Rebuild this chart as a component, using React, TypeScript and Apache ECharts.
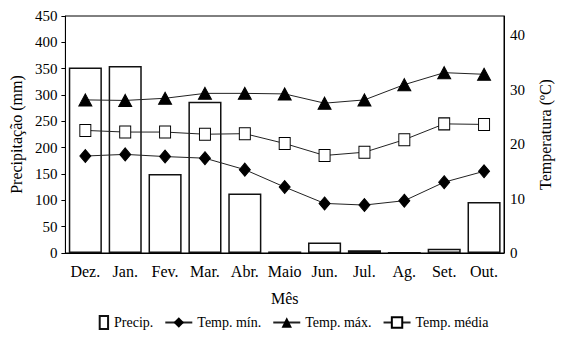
import React, { useEffect, useRef } from "react";
import * as echarts from "echarts";

// Monthly climate data: precipitation (mm) and temperatures (ºC)
const months = ["Dez.", "Jan.", "Fev.", "Mar.", "Abr.", "Maio", "Jun.", "Jul.", "Ag.", "Set.", "Out."];
const precipitation = [352, 355, 150, 287, 113, 3, 20, 5, 0.5, 8, 97];
const tempMin = [17.8, 18.1, 17.7, 17.4, 15.3, 12.1, 9.1, 8.8, 9.6, 13.0, 15.0];
const tempMax = [28.1, 28.0, 28.4, 29.3, 29.3, 29.2, 27.5, 28.1, 30.9, 33.1, 32.8];
const tempMean = [22.5, 22.2, 22.2, 21.8, 21.9, 20.1, 17.9, 18.5, 20.8, 23.7, 23.6];

const FONT = "Liberation Serif";

// Bar legend icon: a narrow upright box sitting at the right edge of the icon slot
const PRECIP_ICON = "path://M0,0 L0,0.01 M18,0 L27,0 L27,14 L18,14 Z";

export default function App() {
  const ref = useRef<HTMLDivElement>(null);

  useEffect(() => {
    if (!ref.current) return;
    const chart = echarts.init(ref.current, null, { renderer: "svg" });
    const lineStyle = { color: "#222", width: 1 };
    chart.setOption({
      animation: false,
      backgroundColor: "#fff",
      textStyle: { fontFamily: FONT, color: "#000" },
      grid: {
        left: 63,
        right: 47,
        top: 16,
        bottom: 85,
        show: true,
        borderColor: "#000",
        borderWidth: 1,
      },
      legend: {
        bottom: 3,
        left: 77,
        itemGap: 11,
        itemWidth: 27,
        itemHeight: 13,
        textStyle: { fontFamily: FONT, fontSize: 14, color: "#000" },
        data: [
          { name: "Precip.", icon: PRECIP_ICON },
          { name: "Temp. mín." },
          { name: "Temp. máx." },
          { name: "Temp. média" },
        ],
      },
      xAxis: {
        type: "category",
        data: months,
        name: "Mês",
        nameLocation: "middle",
        nameGap: 37,
        nameTextStyle: { fontFamily: FONT, fontSize: 16, color: "#000" },
        axisLine: { lineStyle: { color: "#000", width: 1 } },
        axisTick: { show: false },
        axisLabel: { fontFamily: FONT, fontSize: 16, color: "#000", margin: 10, interval: 0 },
      },
      yAxis: [
        {
          type: "value",
          min: 0,
          max: 450,
          interval: 50,
          name: "Precipitação (mm)",
          nameLocation: "middle",
          nameGap: 36,
          nameTextStyle: { fontFamily: FONT, fontSize: 16, color: "#000" },
          axisLine: { show: true, lineStyle: { color: "#000", width: 1 } },
          axisTick: { show: true, length: 4, lineStyle: { color: "#000" } },
          axisLabel: { fontFamily: FONT, fontSize: 15, color: "#000", margin: 8 },
          splitLine: { show: false },
        },
        {
          type: "value",
          min: 0,
          max: 43.5,
          interval: 10,
          name: "Temperatura (ºC)",
          nameLocation: "middle",
          nameGap: 33,
          nameTextStyle: { fontFamily: FONT, fontSize: 16, color: "#000" },
          axisLine: { show: true, lineStyle: { color: "#000", width: 1 } },
          axisTick: { show: false },
          axisLabel: { fontFamily: FONT, fontSize: 15, color: "#000", margin: 6, showMaxLabel: false },
          splitLine: { show: false },
        },
      ],
      series: [
        {
          name: "Precip.",
          type: "bar",
          yAxisIndex: 0,
          data: precipitation,
          barWidth: "83%",
          itemStyle: { color: "#fff", borderColor: "#111", borderWidth: 1.5 },
        },
        {
          name: "Temp. mín.",
          type: "line",
          yAxisIndex: 1,
          data: tempMin,
          symbol: "diamond",
          symbolSize: [11, 13],
          lineStyle,
          itemStyle: { color: "#000", borderColor: "#000" },
        },
        {
          name: "Temp. máx.",
          type: "line",
          yAxisIndex: 1,
          data: tempMax,
          symbol: "triangle",
          symbolSize: [13, 12],
          lineStyle,
          itemStyle: { color: "#000", borderColor: "#000" },
        },
        {
          name: "Temp. média",
          type: "line",
          yAxisIndex: 1,
          data: tempMean,
          symbol: "rect",
          symbolSize: [11, 12],
          lineStyle,
          itemStyle: { color: "#fff", borderColor: "#000", borderWidth: 1 },
        },
      ],
    });
    return () => chart.dispose();
  }, []);

  return (
    <div
      ref={ref}
      style={{ position: "fixed", left: 0, top: 0, width: 561, height: 338 }}
    />
  );
}
